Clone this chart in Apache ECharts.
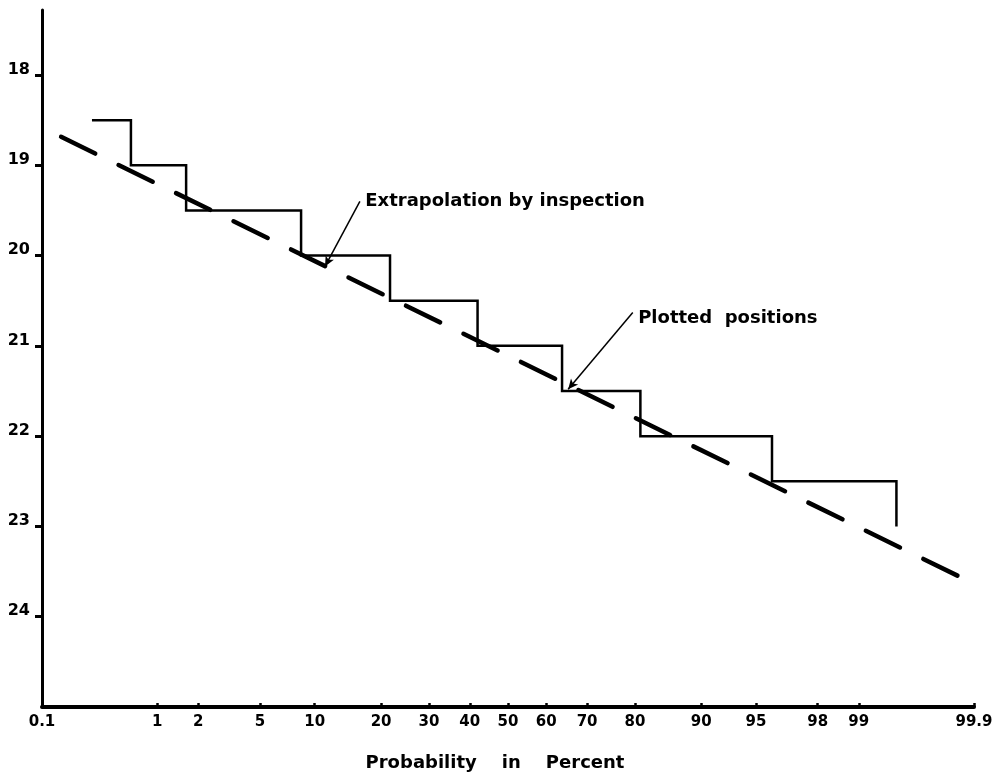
<!DOCTYPE html>
<html>
<head>
<meta charset="utf-8">
<script src="https://cdn.jsdelivr.net/npm/echarts@6/dist/echarts.min.js"></script>
<style>
html,body{margin:0;padding:0;background:#fff;}
#chart{width:1003px;height:777px;}
</style>
</head>
<body>
<div id="chart"></div>
<script>
// ---- data (probabilities in percent, values on the inverted vertical scale) ----
const tickProbs = [0.1, 1, 2, 5, 10, 20, 30, 40, 50, 60, 70, 80, 90, 95, 98, 99, 99.9];
const tickLabels = ['0.1', '1', '2', '5', '10', '20', '30', '40', '50', '60', '70', '80', '90', '95', '98', '99', '99.9'];
const yTicks = [18, 19, 20, 21, 22, 23, 24];

// step line: corner probabilities and levels (step drawn horizontally then down)
const stepProbs  = [0.29, 0.62, 1.64, 8.5, 21.7, 42, 64, 81, 96, 99.5];
const stepLevels = [18.5, 19.0, 19.5, 20.0, 20.5, 21.0, 21.5, 22.0, 22.5, 23.0];

// extrapolated straight line (by inspection)
const lineProbs  = [0.152, 99.88];
const lineLevels = [18.685, 23.59];

// annotations
const noteTexts  = ['Extrapolation by inspection', 'Plotted  positions'];
const noteProbs  = [17.2, 80.6];
const noteLevels = [19.40, 20.69];
const arrowFromProbs  = [16.3, 79.6];
const arrowFromLevels = [19.40, 20.63];
const arrowToProbs    = [11.25, 65.5];
const arrowToLevels   = [20.12, 21.48];

// ---- normal probability scale ----
function qnorm(p){
  const a=[-3.969683028665376e+01,2.209460984245205e+02,-2.759285104469687e+02,1.383577518672690e+02,-3.066479806614716e+01,2.506628277459239e+00];
  const b=[-5.447609879822406e+01,1.615858368580409e+02,-1.556989798598866e+02,6.680131188771972e+01,-1.328068155288572e+01];
  const c=[-7.784894002430293e-03,-3.223964580411365e-01,-2.400758277161838e+00,-2.549732539343734e+00,4.374664141464968e+00,2.938163982698783e+00];
  const d=[7.784695709041462e-03,3.224671290700398e-01,2.445134137142996e+00,3.754408661907416e+00];
  const pl=0.02425, ph=1-pl; let q,r;
  if(p<pl){q=Math.sqrt(-2*Math.log(p));return (((((c[0]*q+c[1])*q+c[2])*q+c[3])*q+c[4])*q+c[5])/((((d[0]*q+d[1])*q+d[2])*q+d[3])*q+1);}
  if(p<=ph){q=p-0.5;r=q*q;return (((((a[0]*r+a[1])*r+a[2])*r+a[3])*r+a[4])*r+a[5])*q/(((((b[0]*r+b[1])*r+b[2])*r+b[3])*r+b[4])*r+1);}
  q=Math.sqrt(-2*Math.log(1-p));return -(((((c[0]*q+c[1])*q+c[2])*q+c[3])*q+c[4])*q+c[5])/((((d[0]*q+d[1])*q+d[2])*q+d[3])*q+1);
}
const z = pct => qnorm(pct/100);
const tickZ = tickProbs.map(z);

const stepData = stepProbs.map((p,i)=>[z(p), stepLevels[i]]);
const lineData = lineProbs.map((p,i)=>[z(p), lineLevels[i]]);
const noteData = noteTexts.map((t,i)=>[z(noteProbs[i]), noteLevels[i], t]);
const arrowData = arrowFromProbs.map((p,i)=>[
  {coord:[z(p), arrowFromLevels[i]], symbol:'none'},
  {coord:[z(arrowToProbs[i]), arrowToLevels[i]], symbol:'arrow'}
]);

const chart = echarts.init(document.getElementById('chart'), null, {renderer:'canvas'});
chart.setOption({
  backgroundColor:'#fff',
  animation:false,
  grid:{left:42, right:29, top:10, bottom:69, containLabel:false},
  xAxis:{
    type:'value', min:z(0.1), max:z(99.9),
    splitLine:{show:false},
    axisLine:{show:true, onZero:false, lineStyle:{color:'#000', width:4}},
    axisTick:{show:true, inside:true, length:4, customValues:tickZ, lineStyle:{color:'#000', width:2.5}},
    axisLabel:{
      customValues:tickZ, margin:8, color:'#000',
      fontFamily:'DejaVu Sans', fontWeight:'bold', fontSize:15,
      formatter:function(v){
        let bi=0, bd=1e9;
        tickZ.forEach((t,i)=>{const dd=Math.abs(t-v); if(dd<bd){bd=dd;bi=i;}});
        return tickLabels[bi];
      }
    },
    name:'Probability    in    Percent',
    nameLocation:'middle', nameGap:47,
    nameTextStyle:{color:'#000', fontFamily:'DejaVu Sans', fontWeight:'bold', fontSize:18, padding:[0,26,0,0]}
  },
  yAxis:{
    type:'value', inverse:true, min:17.28, max:25,
    splitLine:{show:false},
    axisLine:{show:true, onZero:false, lineStyle:{color:'#000', width:3}},
    axisTick:{show:true, inside:false, length:7, customValues:yTicks, lineStyle:{color:'#000', width:3}},
    axisLabel:{
      customValues:yTicks, margin:12, color:'#000',
      fontFamily:'DejaVu Sans', fontWeight:'bold', fontSize:16,
      verticalAlign:'bottom', lineHeight:11,
      formatter:v=>String(v)
    }
  },
  series:[
    {
      type:'line', data:stepData, step:'end', symbol:'none', silent:true,
      lineStyle:{color:'#000', width:2.5, cap:'butt', join:'miter'}
    },
    {
      type:'line', data:lineData, symbol:'none', silent:true,
      lineStyle:{color:'#000', width:4.5, type:[38,26], cap:'round'}
    },
    {
      type:'scatter', data:noteData, symbolSize:0, silent:true,
      itemStyle:{opacity:1, color:'#000'},
      label:{show:true, position:'right', distance:0, color:'#000', opacity:1,
        fontFamily:'DejaVu Sans', fontWeight:'bold', fontSize:18,
        formatter:p=>p.data[2]},
      markLine:{
        silent:true, symbolSize:[7,10],
        label:{show:false},
        lineStyle:{color:'#000', width:1.5, type:'solid', opacity:1},
        data:arrowData
      }
    }
  ]
});
</script>
</body>
</html>
